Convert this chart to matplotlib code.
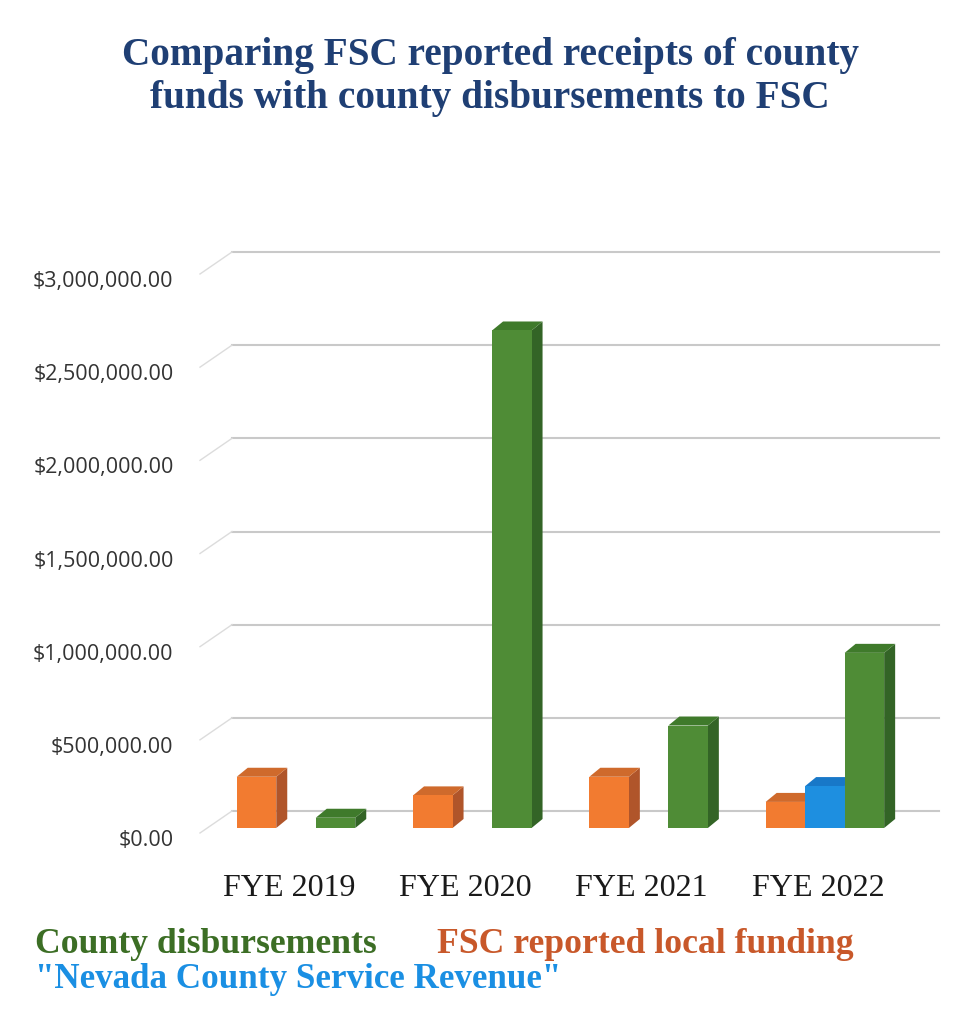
import matplotlib
matplotlib.use("Agg")
import matplotlib.pyplot as plt
from matplotlib.patches import Rectangle, Polygon
from matplotlib.transforms import ScaledTranslation

# ---------------- data ----------------
categories = ["FYE 2019", "FYE 2020", "FYE 2021", "FYE 2022"]
fsc_local = [275000, 175000, 275000, 140000]          # orange
nevada_service = [0, 0, 0, 225000]                     # blue
county_disb = [55000, 2670000, 550000, 940000]         # green
yticks = [0, 500000, 1000000, 1500000, 2000000, 2500000, 3000000]

series = [
    (fsc_local, ("#F27B30", "#CF6A2C", "#B0552A")),
    (nevada_service, ("#1E8FE0", "#1878C8", "#1265AE")),
    (county_disb, ("#4F8C36", "#3F7A2B", "#336426")),
]

W, H, DPI = 963, 1017, 100
fig = plt.figure(figsize=(W / DPI, H / DPI), dpi=DPI)
fig.patch.set_facecolor("white")

# axes in pixel terms (front plane)
left_px, right_px, bot_px, top_px = 200, 907, 828, 269
ax = fig.add_axes([left_px / W, 1 - bot_px / H, (right_px - left_px) / W, (bot_px - top_px) / H])
ax.set_facecolor("none")
cat_px0, cat_step_px = 296, 176.3
xmin = (left_px - cat_px0) / cat_step_px
xmax = (right_px - cat_px0) / cat_step_px
ax.set_xlim(xmin, xmax)
ax.set_ylim(0, 3000000)
for s in ax.spines.values():
    s.set_visible(False)

# pixel -> data unit conversions
px_x = (xmax - xmin) / (right_px - left_px)
px_y = 3000000 / (bot_px - top_px)

# back wall gridlines & side wall diagonals
wall_dx, wall_dy = 32 * px_x, 17 * px_y
for v in yticks:
    ax.plot([xmin + wall_dx, xmax + wall_dx], [v + wall_dy, v + wall_dy],
            color="#c9c9c9", lw=1.5, clip_on=False, zorder=1)
    ax.plot([xmin, xmin + wall_dx], [v - 5 * px_y, v + wall_dy],
            color="#dcdcdc", lw=1.0, clip_on=False, zorder=1)

# 3D-looking bars
bw = 39.5 * px_x
bdx, bdy = 11 * px_x, 9 * px_y
offsets = [-bw, 0, bw]
for i in range(len(categories)):
    for (vals, (cf, ct, cs)), off in zip(series, offsets):
        h = vals[i]
        if h <= 0:
            continue
        x0 = i + off - bw / 2
        x1 = x0 + bw
        z = 3 + i
        ax.add_patch(Polygon([(x1, 0), (x1 + bdx, bdy), (x1 + bdx, h + bdy), (x1, h)],
                             closed=True, fc=cs, ec="none", clip_on=False, zorder=z))
        ax.add_patch(Polygon([(x0, h), (x1, h), (x1 + bdx, h + bdy), (x0 + bdx, h + bdy)],
                             closed=True, fc=ct, ec="none", clip_on=False, zorder=z))
        ax.add_patch(Rectangle((x0, 0), bw, h, fc=cf, ec="none", clip_on=False, zorder=z))

# y tick labels
ax.set_yticks(yticks)
ax.set_yticklabels(["${:,.2f}".format(v) for v in yticks], fontfamily="Open Sans",
                   fontsize=15.5, color="#333333")
ax.tick_params(axis="y", length=0, pad=19)
for lab in ax.get_yticklabels():
    lab.set_transform(lab.get_transform() + ScaledTranslation(0, -0.10, fig.dpi_scale_trans))

# x tick labels
ax.set_xticks(range(len(categories)))
ax.set_xticklabels(categories, fontfamily="Liberation Serif", fontsize=23, color="#1a1a1a")
ax.tick_params(axis="x", length=0, pad=33)
for lab in ax.get_xticklabels():
    lab.set_transform(lab.get_transform() + ScaledTranslation(-0.07, 0, fig.dpi_scale_trans))

# title
fig.text(490 / W, 1 - 77 / H,
         "Comparing FSC reported receipts of county\nfunds with county disbursements to FSC",
         ha="center", va="center", fontfamily="Liberation Serif", fontweight="bold",
         fontsize=28.3, color="#1F3F74", linespacing=1.2)

# legend-like text
fig.text(35 / W, 1 - 953 / H, "County disbursements", ha="left", va="baseline",
         fontfamily="Liberation Serif", fontweight="bold", fontsize=25.7, color="#3C6E25")
fig.text(437 / W, 1 - 953 / H, "FSC reported local funding", ha="left", va="baseline",
         fontfamily="Liberation Serif", fontweight="bold", fontsize=25.7, color="#C8582A")
fig.text(35 / W, 1 - 988 / H, "\"Nevada County Service Revenue\"", ha="left", va="baseline",
         fontfamily="Liberation Serif", fontweight="bold", fontsize=25.2, color="#1A8FE3")

fig.savefig("out.png", dpi=DPI, facecolor="white")
